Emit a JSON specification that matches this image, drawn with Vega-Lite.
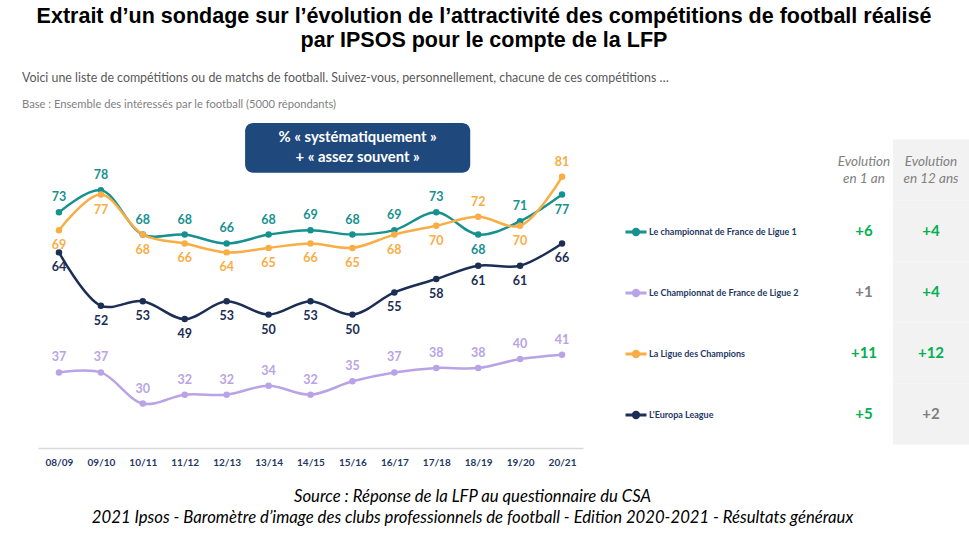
{
  "$schema": "https://vega.github.io/schema/vega-lite/v6.json",
  "background": "white",
  "padding": {"left": 22, "right": 0, "top": 6, "bottom": 0},
  "config": {"view": {"stroke": null}, "font": "Lato"},
  "title": {
    "text": ["Extrait d’un sondage sur l’évolution de l’attractivité des compétitions de football réalisé", "par IPSOS pour le compte de la LFP"],
    "font": "Liberation Sans", "fontSize": 21.5, "fontWeight": "bold", "color": "#000000",
    "lineHeight": 24, "anchor": "middle", "dx": -11.5, "offset": 20
  },
  "datasets": {
    "scores": [
      {"serie": "Le championnat de France de Ligue 1", "saison": "08/09", "debut": 2008, "pct": 73},
      {"serie": "Le championnat de France de Ligue 1", "saison": "09/10", "debut": 2009, "pct": 78},
      {"serie": "Le championnat de France de Ligue 1", "saison": "10/11", "debut": 2010, "pct": 68},
      {"serie": "Le championnat de France de Ligue 1", "saison": "11/12", "debut": 2011, "pct": 68},
      {"serie": "Le championnat de France de Ligue 1", "saison": "12/13", "debut": 2012, "pct": 66},
      {"serie": "Le championnat de France de Ligue 1", "saison": "13/14", "debut": 2013, "pct": 68},
      {"serie": "Le championnat de France de Ligue 1", "saison": "14/15", "debut": 2014, "pct": 69},
      {"serie": "Le championnat de France de Ligue 1", "saison": "15/16", "debut": 2015, "pct": 68},
      {"serie": "Le championnat de France de Ligue 1", "saison": "16/17", "debut": 2016, "pct": 69},
      {"serie": "Le championnat de France de Ligue 1", "saison": "17/18", "debut": 2017, "pct": 73},
      {"serie": "Le championnat de France de Ligue 1", "saison": "18/19", "debut": 2018, "pct": 68},
      {"serie": "Le championnat de France de Ligue 1", "saison": "19/20", "debut": 2019, "pct": 71},
      {"serie": "Le championnat de France de Ligue 1", "saison": "20/21", "debut": 2020, "pct": 77},
      {"serie": "Le Championnat de France de Ligue 2", "saison": "08/09", "debut": 2008, "pct": 37},
      {"serie": "Le Championnat de France de Ligue 2", "saison": "09/10", "debut": 2009, "pct": 37},
      {"serie": "Le Championnat de France de Ligue 2", "saison": "10/11", "debut": 2010, "pct": 30},
      {"serie": "Le Championnat de France de Ligue 2", "saison": "11/12", "debut": 2011, "pct": 32},
      {"serie": "Le Championnat de France de Ligue 2", "saison": "12/13", "debut": 2012, "pct": 32},
      {"serie": "Le Championnat de France de Ligue 2", "saison": "13/14", "debut": 2013, "pct": 34},
      {"serie": "Le Championnat de France de Ligue 2", "saison": "14/15", "debut": 2014, "pct": 32},
      {"serie": "Le Championnat de France de Ligue 2", "saison": "15/16", "debut": 2015, "pct": 35},
      {"serie": "Le Championnat de France de Ligue 2", "saison": "16/17", "debut": 2016, "pct": 37},
      {"serie": "Le Championnat de France de Ligue 2", "saison": "17/18", "debut": 2017, "pct": 38},
      {"serie": "Le Championnat de France de Ligue 2", "saison": "18/19", "debut": 2018, "pct": 38},
      {"serie": "Le Championnat de France de Ligue 2", "saison": "19/20", "debut": 2019, "pct": 40},
      {"serie": "Le Championnat de France de Ligue 2", "saison": "20/21", "debut": 2020, "pct": 41},
      {"serie": "La Ligue des Champions", "saison": "08/09", "debut": 2008, "pct": 69},
      {"serie": "La Ligue des Champions", "saison": "09/10", "debut": 2009, "pct": 77},
      {"serie": "La Ligue des Champions", "saison": "10/11", "debut": 2010, "pct": 68},
      {"serie": "La Ligue des Champions", "saison": "11/12", "debut": 2011, "pct": 66},
      {"serie": "La Ligue des Champions", "saison": "12/13", "debut": 2012, "pct": 64},
      {"serie": "La Ligue des Champions", "saison": "13/14", "debut": 2013, "pct": 65},
      {"serie": "La Ligue des Champions", "saison": "14/15", "debut": 2014, "pct": 66},
      {"serie": "La Ligue des Champions", "saison": "15/16", "debut": 2015, "pct": 65},
      {"serie": "La Ligue des Champions", "saison": "16/17", "debut": 2016, "pct": 68},
      {"serie": "La Ligue des Champions", "saison": "17/18", "debut": 2017, "pct": 70},
      {"serie": "La Ligue des Champions", "saison": "18/19", "debut": 2018, "pct": 72},
      {"serie": "La Ligue des Champions", "saison": "19/20", "debut": 2019, "pct": 70},
      {"serie": "La Ligue des Champions", "saison": "20/21", "debut": 2020, "pct": 81},
      {"serie": "L'Europa League", "saison": "08/09", "debut": 2008, "pct": 64},
      {"serie": "L'Europa League", "saison": "09/10", "debut": 2009, "pct": 52},
      {"serie": "L'Europa League", "saison": "10/11", "debut": 2010, "pct": 53},
      {"serie": "L'Europa League", "saison": "11/12", "debut": 2011, "pct": 49},
      {"serie": "L'Europa League", "saison": "12/13", "debut": 2012, "pct": 53},
      {"serie": "L'Europa League", "saison": "13/14", "debut": 2013, "pct": 50},
      {"serie": "L'Europa League", "saison": "14/15", "debut": 2014, "pct": 53},
      {"serie": "L'Europa League", "saison": "15/16", "debut": 2015, "pct": 50},
      {"serie": "L'Europa League", "saison": "16/17", "debut": 2016, "pct": 55},
      {"serie": "L'Europa League", "saison": "17/18", "debut": 2017, "pct": 58},
      {"serie": "L'Europa League", "saison": "18/19", "debut": 2018, "pct": 61},
      {"serie": "L'Europa League", "saison": "19/20", "debut": 2019, "pct": 61},
      {"serie": "L'Europa League", "saison": "20/21", "debut": 2020, "pct": 66}
    ],
    "evolution": [
      {"ligne": "Evolution", "periode": "1 an", "texte": "Evolution\nen 1 an", "significatif": "non"},
      {"ligne": "Evolution", "periode": "12 ans", "texte": "Evolution\nen 12 ans", "significatif": "non"},
      {"ligne": "Le championnat de France de Ligue 1", "periode": "1 an", "texte": "+6", "significatif": "oui"},
      {"ligne": "Le championnat de France de Ligue 1", "periode": "12 ans", "texte": "+4", "significatif": "oui"},
      {"ligne": "Le Championnat de France de Ligue 2", "periode": "1 an", "texte": "+1", "significatif": "non"},
      {"ligne": "Le Championnat de France de Ligue 2", "periode": "12 ans", "texte": "+4", "significatif": "oui"},
      {"ligne": "La Ligue des Champions", "periode": "1 an", "texte": "+11", "significatif": "oui"},
      {"ligne": "La Ligue des Champions", "periode": "12 ans", "texte": "+12", "significatif": "oui"},
      {"ligne": "L'Europa League", "periode": "1 an", "texte": "+5", "significatif": "oui"},
      {"ligne": "L'Europa League", "periode": "12 ans", "texte": "+2", "significatif": "non"}
    ]
  },
  "bounds": "flush",
  "spacing": 234,
  "resolve": {"scale": {"color": "independent"}, "legend": {"color": "independent"}},
  "hconcat": [
    {
      "width": 545,
      "height": 329,
      "title": {
        "text": "Voici une liste de compétitions ou de matchs de football. Suivez-vous, personnellement, chacune de ces compétitions …",
        "subtitle": "Base : Ensemble des intéressés par le football  (5000 répondants)",
        "anchor": "start", "dx": -16, "font": "Lato", "fontSize": 12.4, "fontWeight": "normal", "color": "#595959",
        "subtitleFont": "Lato", "subtitleFontSize": 11.2, "subtitleColor": "#7f7f7f", "subtitlePadding": 14.5, "offset": 9
      },
      "resolve": {"axis": {"x": "independent", "y": "independent"}},
      "layer": [
        {
          "data": {"values": [{"encadre": "% « systématiquement » + « assez souvent »"}]},
          "mark": {"type": "rect", "color": "#1f497d", "cornerRadius": 8},
          "encoding": {
            "x": {"datum": 2012.44, "type": "quantitative", "axis": null},
            "x2": {"datum": 2017.81},
            "y": {"datum": 81.9, "type": "quantitative", "axis": null},
            "y2": {"datum": 93.1}
          }
        },
        {
          "data": {"values": [{"encadre": "% « systématiquement » + « assez souvent »"}]},
          "mark": {"type": "text", "color": "#ffffff", "font": "Lato", "fontWeight": "bold", "fontSize": 14.8, "lineHeight": 20, "align": "center", "baseline": "middle", "text": ["% « systématiquement »", "+ « assez souvent »"]},
          "encoding": {
            "x": {"datum": 2015.125, "type": "quantitative", "axis": null},
            "y": {"datum": 89.8, "type": "quantitative", "axis": null}
          }
        },
        {
          "data": {"name": "scores"},
          "mark": {"type": "line", "interpolate": "catmull-rom", "strokeWidth": 2.5, "point": {"filled": true, "size": 42}},
          "encoding": {
            "x": {
              "field": "debut", "type": "quantitative",
              "scale": {"domain": [2007.5, 2020.5], "nice": false, "zero": false},
              "axis": {
                "values": [2008, 2009, 2010, 2011, 2012, 2013, 2014, 2015, 2016, 2017, 2018, 2019, 2020],
                "labelExpr": "pad(toString(datum.value % 100), 2, '0', 'left') + '/' + pad(toString((datum.value + 1) % 100), 2, '0', 'left')",
                "title": ["Source : Réponse de la LFP au questionnaire du CSA", "2021 Ipsos - Baromètre d’image des clubs professionnels de football - Edition 2020-2021 - Résultats généraux"],
                "titleFont": "Lato", "titleFontStyle": "italic", "titleFontWeight": "normal", "titleFontSize": 16.7,
                "titleLineHeight": 21, "titleColor": "#000000", "titleX": 434, "titlePadding": 21,
                "ticks": false, "grid": false,
                "domainColor": "#d9d9d9", "domainWidth": 1.5,
                "labelFont": "Lato", "labelFontWeight": "bold", "labelFontSize": 10, "labelColor": "#1f3864", "labelPadding": 9
              }
            },
            "y": {"field": "pct", "type": "quantitative", "scale": {"domain": [20, 94], "nice": false, "zero": false}, "axis": null},
            "color": {
              "field": "serie", "type": "nominal",
              "scale": {
                "domain": ["Le championnat de France de Ligue 1", "Le Championnat de France de Ligue 2", "La Ligue des Champions", "L'Europa League"],
                "range": ["#17918f", "#b9a3e6", "#f8ad45", "#1c2e53"]
              },
              "legend": {
                "orient": "none", "legendX": 586, "legendY": 101, "title": null, "padding": 0,
                "symbolType": "M-1,0L1,0M-0.26,0A0.26,0.26,0,1,0,0.26,0A0.26,0.26,0,1,0,-0.26,0",
                "symbolStrokeWidth": 3, "symbolSize": 441,
                "labelFont": "Lato", "labelFontWeight": "bold", "labelFontSize": 9, "labelColor": "#1f3864",
                "rowPadding": 40, "labelOffset": 1, "labelLimit": 300
              }
            }
          }
        },
        {
          "data": {"name": "scores"},
          "transform": [{"filter": "(datum.serie === 'Le championnat de France de Ligue 1' && datum.debut !== 2018 && datum.debut !== 2020) || datum.serie === 'Le Championnat de France de Ligue 2' || (datum.serie === 'La Ligue des Champions' && (datum.debut === 2018 || datum.debut === 2020))"}],
          "mark": {"type": "text", "font": "Lato", "fontWeight": "bold", "fontSize": 12.5, "baseline": "middle", "dy": -15},
          "encoding": {
            "x": {"field": "debut", "type": "quantitative", "axis": null},
            "y": {"field": "pct", "type": "quantitative", "axis": null},
            "text": {"field": "pct", "type": "quantitative"},
            "color": {"field": "serie", "type": "nominal"}
          }
        },
        {
          "data": {"name": "scores"},
          "transform": [{"filter": "!((datum.serie === 'Le championnat de France de Ligue 1' && datum.debut !== 2018 && datum.debut !== 2020) || datum.serie === 'Le Championnat de France de Ligue 2' || (datum.serie === 'La Ligue des Champions' && (datum.debut === 2018 || datum.debut === 2020)))"}],
          "mark": {"type": "text", "font": "Lato", "fontWeight": "bold", "fontSize": 12.5, "baseline": "middle", "dy": 15},
          "encoding": {
            "x": {"field": "debut", "type": "quantitative", "axis": null},
            "y": {"field": "pct", "type": "quantitative", "axis": null},
            "text": {"field": "pct", "type": "quantitative"},
            "color": {"field": "serie", "type": "nominal"}
          }
        }
      ]
    },
    {
      "width": 152,
      "height": 329,
      "data": {"name": "evolution"},
      "encoding": {
        "x": {"field": "periode", "type": "nominal", "scale": {"domain": ["1 an", "12 ans"], "paddingInner": 0, "paddingOuter": 0}, "axis": null},
        "y": {
          "field": "ligne", "type": "nominal",
          "scale": {"domain": ["Evolution", "Le championnat de France de Ligue 1", "Le Championnat de France de Ligue 2", "La Ligue des Champions", "L'Europa League"], "paddingInner": 0, "paddingOuter": 0.197, "align": 0.854},
          "axis": null
        }
      },
      "layer": [
        {
          "transform": [{"filter": "datum.periode === '12 ans'"}],
          "mark": {"type": "rect", "color": "#f2f2f2"}
        },
        {
          "transform": [{"filter": "datum.ligne === 'Evolution' && datum.periode === '1 an'"}],
          "mark": {"type": "text", "font": "Lato", "fontStyle": "italic", "fontSize": 13.5, "color": "#808080", "lineBreak": "\n", "lineHeight": 17, "baseline": "middle", "dx": 9, "dy": -8},
          "encoding": {"text": {"field": "texte", "type": "nominal"}}
        },
        {
          "transform": [{"filter": "datum.ligne === 'Evolution' && datum.periode === '12 ans'"}],
          "mark": {"type": "text", "font": "Lato", "fontStyle": "italic", "fontSize": 13.5, "color": "#808080", "lineBreak": "\n", "lineHeight": 17, "baseline": "middle", "dy": -8},
          "encoding": {"text": {"field": "texte", "type": "nominal"}}
        },
        {
          "transform": [{"filter": "datum.ligne !== 'Evolution' && datum.periode === '1 an'"}],
          "mark": {"type": "text", "font": "Lato", "fontWeight": "bold", "fontSize": 15, "baseline": "middle", "dx": 9},
          "encoding": {
            "text": {"field": "texte", "type": "nominal"},
            "color": {"field": "significatif", "type": "nominal", "scale": {"domain": ["oui", "non"], "range": ["#00b050", "#7f7f7f"]}, "legend": null}
          }
        },
        {
          "transform": [{"filter": "datum.ligne !== 'Evolution' && datum.periode === '12 ans'"}],
          "mark": {"type": "text", "font": "Lato", "fontWeight": "bold", "fontSize": 15, "baseline": "middle"},
          "encoding": {
            "text": {"field": "texte", "type": "nominal"},
            "color": {"field": "significatif", "type": "nominal", "scale": {"domain": ["oui", "non"], "range": ["#00b050", "#7f7f7f"]}, "legend": null}
          }
        }
      ]
    }
  ]
}
